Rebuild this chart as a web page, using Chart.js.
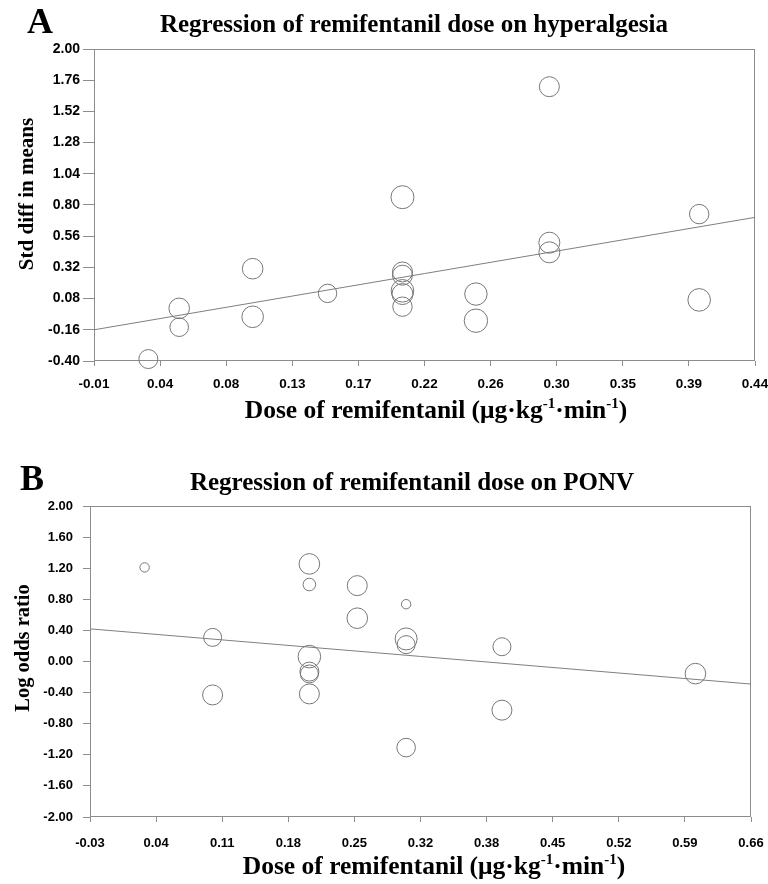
<!DOCTYPE html>
<html>
<head>
<meta charset="utf-8">
<title>Remifentanil dose meta-regression</title>
<script src="https://cdn.jsdelivr.net/npm/chart.js@4.4.1/dist/chart.umd.min.js"></script>
<style>
  html, body { margin: 0; padding: 0; background: #fff; }
  canvas { display: block; }
</style>
</head>
<body>
<canvas id="chartA" width="768" height="442"></canvas>
<canvas id="chartB" width="768" height="442"></canvas>
<script>
// ---- Panel A: hyperalgesia ----
const doseA   = [0.027, 0.048, 0.048, 0.098, 0.098, 0.149, 0.200, 0.200, 0.200, 0.200, 0.200, 0.200, 0.250, 0.250, 0.300, 0.300, 0.300, 0.402, 0.402];
const smdA    = [-0.385, 0.005, -0.14, 0.31, -0.06, 0.12, 0.86, 0.285, 0.26, 0.14, 0.115, 0.018, 0.115, -0.09, 1.71, 0.51, 0.436, 0.73, 0.07];
const weightA = [9.5, 10.3, 9.3, 10.3, 10.8, 9.2, 11.5, 10, 10, 11.3, 10.5, 9.7, 11.2, 11.7, 10, 10.5, 10.5, 9.7, 11.3];
const fitXA = [-0.01, 0.44];
const fitYA = [-0.16, 0.705];
const xTicksA  = [-0.01, 0.035, 0.08, 0.125, 0.17, 0.215, 0.26, 0.305, 0.35, 0.395, 0.44];
const xLabelsA = ['-0.01', '0.04', '0.08', '0.13', '0.17', '0.22', '0.26', '0.30', '0.35', '0.39', '0.44'];
const yTicksA  = [-0.40, -0.16, 0.08, 0.32, 0.56, 0.80, 1.04, 1.28, 1.52, 1.76, 2.00];
const yLabelsA = ['-0.40', '-0.16', '0.08', '0.32', '0.56', '0.80', '1.04', '1.28', '1.52', '1.76', '2.00'];

// ---- Panel B: PONV ----
const doseB   = [0.027, 0.098, 0.098, 0.199, 0.199, 0.199, 0.199, 0.199, 0.199, 0.249, 0.249, 0.300, 0.300, 0.300, 0.300, 0.400, 0.400, 0.602];
const lorB    = [1.21, 0.31, -0.43, 1.255, 0.99, 0.063, -0.13, -0.16, -0.417, 0.976, 0.557, 0.737, 0.29, 0.217, -1.107, 0.19, -0.626, -0.156];
const weightB = [4.7, 9, 10, 10.3, 6.3, 11.3, 9.5, 9, 10, 10, 10.3, 4.7, 11, 9, 9.3, 9, 10, 10.3];
const fitXB = [-0.03, 0.66];
const fitYB = [0.42, -0.29];
const xTicksB  = [-0.03, 0.039, 0.108, 0.177, 0.246, 0.315, 0.384, 0.453, 0.522, 0.591, 0.66];
const xLabelsB = ['-0.03', '0.04', '0.11', '0.18', '0.25', '0.32', '0.38', '0.45', '0.52', '0.59', '0.66'];
const yTicksB  = [-2.00, -1.60, -1.20, -0.80, -0.40, 0.00, 0.40, 0.80, 1.20, 1.60, 2.00];
const yLabelsB = ['-2.00', '-1.60', '-1.20', '-0.80', '-0.40', '0.00', '0.40', '0.80', '1.20', '1.60', '2.00'];

const GREY = '#8c8c8c';
const SERIF = '"Liberation Serif", "Times New Roman", serif';
const SANS = '"Liberation Sans", Arial, sans-serif';

// text with superscripts, centred on cx
function drawRich(ctx, parts, cx, baseline, size) {
    const big = `bold ${size}px ${SERIF}`;
    const small = `bold ${Math.round(size * 0.6)}px ${SERIF}`;
    let total = 0;
    parts.forEach(p => { ctx.font = p.sup ? small : big; total += ctx.measureText(p.t).width; });
    let x = cx - total / 2;
    ctx.textAlign = 'left';
    ctx.textBaseline = 'alphabetic';
    parts.forEach(p => {
        ctx.font = p.sup ? small : big;
        ctx.fillText(p.t, x, p.sup ? baseline - size * 0.4 : baseline);
        x += ctx.measureText(p.t).width;
    });
}

const doseTitle = [
    { t: 'Dose of remifentanil (μg·kg' }, { t: '-1', sup: true },
    { t: '·min' }, { t: '-1', sup: true }, { t: ')' }
];

const panelText = {
    id: 'panelText',
    beforeDatasetsDraw(chart) {
        const ctx = chart.ctx;
        const a = chart.chartArea;
        ctx.save();
        ctx.strokeStyle = GREY;
        ctx.lineWidth = 1;
        ctx.strokeRect(Math.round(a.left) + 0.5, Math.round(a.top) + 0.5,
            Math.round(a.right - a.left) - 1, Math.round(a.bottom - a.top) - 1);
        ctx.restore();
    },
    afterDraw(chart) {
        const o = chart.options.plugins.panelText;
        const ctx = chart.ctx;
        ctx.save();
        ctx.fillStyle = '#000';
        // panel letter
        ctx.font = `bold 36px ${SERIF}`;
        ctx.textAlign = 'left';
        ctx.textBaseline = 'alphabetic';
        ctx.fillText(o.letter, o.letterX, o.letterY);
        // title
        ctx.font = `bold 25px ${SERIF}`;
        ctx.textAlign = 'center';
        ctx.fillText(o.title, o.titleX, o.titleY);
        // y title
        ctx.save();
        ctx.translate(o.yTitleX, o.yTitleY);
        ctx.rotate(-Math.PI / 2);
        ctx.font = `bold ${o.yTitleSize}px ${SERIF}`;
        ctx.textAlign = 'center';
        ctx.fillText(o.yTitle, 0, 0);
        ctx.restore();
        // x title
        drawRich(ctx, doseTitle, o.xTitleX, o.xTitleY, 25.5);
        ctx.restore();
    }
};

function makeChart(id, cfg) {
    const points = cfg.dose.map((d, i) => ({ x: d, y: cfg.vals[i], r: cfg.weights[i] }));
    const fit = cfg.fitX.map((d, i) => ({ x: d, y: cfg.fitY[i] }));
    return new Chart(document.getElementById(id), {
        type: 'bubble',
        data: {
            datasets: [
                {
                    data: points,
                    backgroundColor: 'rgba(0,0,0,0)',
                    borderColor: '#777',
                    borderWidth: 1,
                    hoverRadius: 0,
                    clip: false
                },
                {
                    type: 'line',
                    data: fit,
                    borderColor: '#7f7f7f',
                    borderWidth: 1,
                    pointRadius: 0,
                    fill: false
                }
            ]
        },
        options: {
            responsive: false,
            animation: false,
            devicePixelRatio: 1,
            layout: { padding: { left: 0, right: cfg.padRight, top: cfg.padTop, bottom: 0 } },
            plugins: {
                legend: { display: false },
                tooltip: { enabled: false },
                panelText: cfg.text
            },
            scales: {
                x: {
                    type: 'linear',
                    min: cfg.xTicks[0],
                    max: cfg.xTicks[cfg.xTicks.length - 1],
                    afterBuildTicks: s => { s.ticks = cfg.xTicks.map(v => ({ value: v })); },
                    afterFit: s => { s.height = cfg.xHeight; s.paddingLeft = 0; s.paddingRight = 0; },
                    grid: { drawOnChartArea: false, drawTicks: true, tickLength: 5, color: GREY },
                    border: { display: false },
                    ticks: {
                        autoSkip: false,
                        maxRotation: 0,
                        padding: cfg.xTickPad,
                        color: '#000',
                        font: { family: SANS, size: cfg.xFont, weight: 'bold' },
                        callback: (v, i) => cfg.xLabels[i]
                    }
                },
                y: {
                    type: 'linear',
                    min: cfg.yTicks[0],
                    max: cfg.yTicks[cfg.yTicks.length - 1],
                    afterBuildTicks: s => { s.ticks = cfg.yTicks.map(v => ({ value: v })); },
                    afterFit: s => { s.width = cfg.yWidth; s.paddingTop = 0; s.paddingBottom = 0; },
                    grid: { drawOnChartArea: false, drawTicks: true, tickLength: cfg.yTickLen, color: GREY },
                    border: { display: false },
                    ticks: {
                        autoSkip: false,
                        padding: cfg.yTickPad,
                        color: '#000',
                        font: { family: SANS, size: cfg.yFont, weight: 'bold' },
                        callback: (v, i) => cfg.yLabels[i]
                    }
                }
            }
        },
        plugins: [panelText]
    });
}

makeChart('chartA', {
    dose: doseA, vals: smdA, weights: weightA,
    fitX: fitXA, fitY: fitYA,
    xTicks: xTicksA, xLabels: xLabelsA, yTicks: yTicksA, yLabels: yLabelsA,
    padTop: 49, padRight: 13, xHeight: 81, yWidth: 94,
    xTickPad: 10, xFont: 13.5, yTickLen: 11, yTickPad: 3, yFont: 14,
    text: {
        letter: 'A', letterX: 27, letterY: 33,
        title: 'Regression of remifentanil dose on hyperalgesia', titleX: 414, titleY: 32,
        yTitle: 'Std diff in means', yTitleX: 33, yTitleY: 194, yTitleSize: 21,
        xTitleX: 436, xTitleY: 418
    }
});

makeChart('chartB', {
    dose: doseB, vals: lorB, weights: weightB,
    fitX: fitXB, fitY: fitYB,
    xTicks: xTicksB, xLabels: xLabelsB, yTicks: yTicksB, yLabels: yLabelsB,
    padTop: 64, padRight: 17, xHeight: 67, yWidth: 90,
    xTickPad: 14, xFont: 13, yTickLen: 7, yTickPad: 10, yFont: 13,
    text: {
        letter: 'B', letterX: 20, letterY: 48,
        title: 'Regression of remifentanil dose on PONV', titleX: 412, titleY: 48,
        yTitle: 'Log odds ratio', yTitleX: 29, yTitleY: 206, yTitleSize: 20.5,
        xTitleX: 434, xTitleY: 432
    }
});
</script>
</body>
</html>
